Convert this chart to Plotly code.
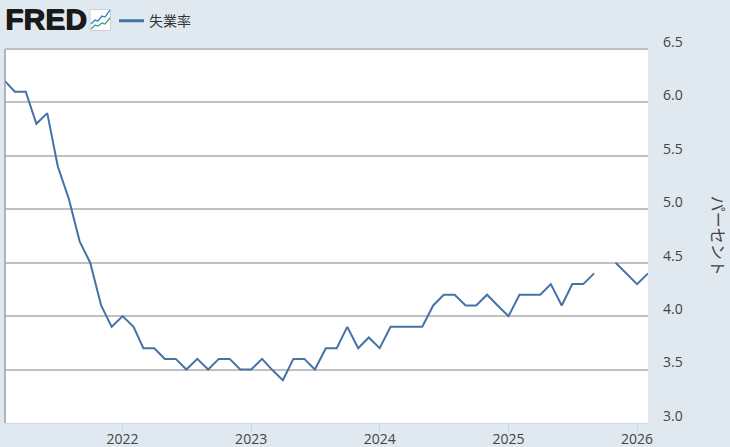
import plotly.graph_objects as go

W, H = 730, 447
L, R, T, B = 5, 648, 49, 423.5

# FRED UNRATE, monthly, %; Oct 2025 is missing
start_year = 2021
start_month = 2
unrate = [
    6.2, 6.1, 6.1, 5.8, 5.9, 5.4, 5.1, 4.7, 4.5, 4.1, 3.9,
    4.0, 3.9, 3.7, 3.7, 3.6, 3.6, 3.5, 3.6, 3.5, 3.6, 3.6, 3.5,
    3.5, 3.6, 3.5, 3.4, 3.6, 3.6, 3.5, 3.7, 3.7, 3.9, 3.7, 3.8,
    3.7, 3.9, 3.9, 3.9, 3.9, 4.1, 4.2, 4.2, 4.1, 4.1, 4.2, 4.1,
    4.0, 4.2, 4.2, 4.2, 4.3, 4.1, 4.3, 4.3, 4.4, None, 4.5, 4.4,
    4.3, 4.4,
]
months = []
for i in range(len(unrate)):
    m = start_month - 1 + i
    months.append(f"{start_year + m // 12}-{m % 12 + 1:02d}-01")

y_ticks = [3.0, 3.5, 4.0, 4.5, 5.0, 5.5, 6.0, 6.5]
x_ticks = ["2022-01-01", "2023-01-01", "2024-01-01", "2025-01-01", "2026-01-01"]
x_labels = ["2022", "2023", "2024", "2025", "2026"]

SANS = "Open Sans, Noto Sans CJK JP, sans-serif"
CJK = "Noto Sans CJK JP, sans-serif"
BLUE = "#4572a7"
TEXT = "#444444"
BG = "#e1e9f0"


# paper coords are relative to the plot area, so convert from window pixels
def px(x):
    return (x - L) / (R - L)


def py(y):
    return (B - y) / (B - T)


def icon_path(points):
    return "M " + " L ".join(f"{px(a):.4f},{py(b):.4f}" for a, b in points)


fig = go.Figure()
fig.add_trace(go.Scatter(
    x=months, y=unrate, mode="lines", showlegend=False,
    line=dict(color=BLUE, width=2), connectgaps=False, hoverinfo="x+y",
))
# legend key is thicker and shorter than the line itself (30px is plotly's minimum, so dash off the first 5)
fig.add_trace(go.Scatter(
    x=[None], y=[None], mode="lines", name="失業率",
    line=dict(color=BLUE, width=3, dash="0px,5px,25px,100px"),
))

# plot border and FRED chart icon
shapes = [
    dict(type="line", xref="paper", yref="paper", x0=px(L), x1=px(L), y0=py(T), y1=py(B),
         line=dict(color="#98a0a8", width=1.5)),
    dict(type="line", xref="paper", yref="paper", x0=0, x1=1, y0=1, y1=1,
         line=dict(color="#c0c0c0", width=2)),
    dict(type="rect", xref="paper", yref="paper", x0=px(90), x1=px(110.5), y0=py(30.5), y1=py(9.5),
         fillcolor="#ffffff", line=dict(color="#c8d0d6", width=1)),
    dict(type="path", xref="paper", yref="paper",
         path=icon_path([(91, 24), (95, 20), (98, 21), (102, 16), (105, 17), (110, 10)]),
         line=dict(color="#2f7fc1", width=1.3)),
    dict(type="path", xref="paper", yref="paper",
         path=icon_path([(91, 29), (95, 25), (98, 26), (102, 23), (105, 24), (110, 18)]),
         line=dict(color="#3fa58f", width=1.3)),
]

fig.update_layout(
    width=W, height=H, autosize=False,
    margin=dict(l=L, r=W - R, t=T, b=H - B, pad=0),
    paper_bgcolor=BG, plot_bgcolor="#ffffff",
    font=dict(family=SANS, color=TEXT, size=14),
    shapes=shapes,
    showlegend=True,
    legend=dict(
        orientation="h", x=px(109), y=py(5), xanchor="left", yanchor="top",
        bgcolor="rgba(0,0,0,0)", font=dict(family=CJK, size=14, color="#333333"),
        itemwidth=30,
    ),
    annotations=[
        dict(
            text="<b>FRED</b>", xref="paper", yref="paper", x=px(2.5), y=py(19.5),
            xanchor="left", yanchor="middle", showarrow=False,
            font=dict(family="Liberation Sans, Arial, sans-serif", size=30, color="#1a1a1a",
                      shadow="1px 0 0 #1a1a1a, 0 -1px 0 #1a1a1a"),
        ),
        dict(
            text="パーセント", xref="paper", yref="paper", x=px(719), y=py(236),
            xanchor="center", yanchor="middle", showarrow=False, textangle=90,
            font=dict(family=CJK, size=16, color=TEXT),
        ),
    ],
    xaxis=dict(
        type="date", range=[months[0], months[-1]], automargin=False,
        tickmode="array", tickvals=x_ticks, ticktext=x_labels,
        ticks="outside", ticklen=8, tickcolor="#ccd6eb", tickwidth=1, ticklabelstandoff=-5,
        showgrid=False, showline=True, linecolor="#ccd6eb", linewidth=1,
        tickfont=dict(family=SANS, size=14, color=TEXT), zeroline=False,
    ),
    yaxis=dict(
        side="right", range=[3.0, 6.5], automargin=False,
        tickmode="array", tickvals=y_ticks, ticktext=[f"{v:.1f}" for v in y_ticks],
        ticks="", ticklabelstandoff=14, ticklabelshift=-7,
        showgrid=True, gridcolor="#c0c0c0", gridwidth=2, zeroline=False, showline=False,
        tickfont=dict(family=SANS, size=14, color=TEXT),
    ),
)

fig.write_html("out.html", config=dict(displayModeBar=False),
               post_script="document.body.style.margin='0';")
